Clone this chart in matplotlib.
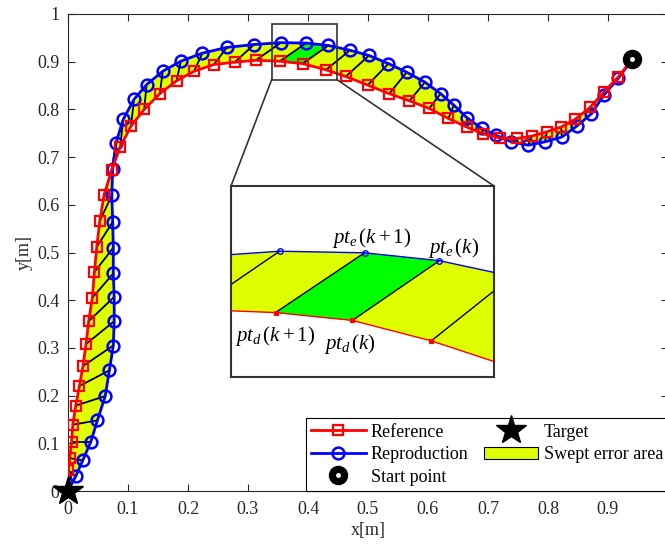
import matplotlib
matplotlib.use('Agg')
import matplotlib.pyplot as plt
from matplotlib.patches import Rectangle, Patch, ConnectionPatch

plt.rcParams['font.family'] = 'Liberation Serif'
plt.rcParams['mathtext.fontset'] = 'custom'
plt.rcParams['mathtext.rm'] = 'Liberation Serif'
plt.rcParams['mathtext.it'] = 'Liberation Serif:italic'

# reference trajectory (red), ordered from target to start point
ref_x = [0.000, 0.0005, 0.003, 0.006, 0.008, 0.013, 0.019, 0.025, 0.030, 0.0345, 0.0405, 0.044,
         0.048, 0.053, 0.060, 0.073, 0.087, 0.105, 0.127, 0.153, 0.181, 0.210, 0.243, 0.278,
         0.313, 0.353, 0.391, 0.430,
         0.463, 0.4995, 0.5355, 0.569, 0.602, 0.634, 0.6645, 0.692, 0.720, 0.748, 0.773, 0.798,
         0.822, 0.845, 0.870, 0.893, 0.917, 0.9405]
ref_y = [0.000, 0.043, 0.069, 0.103, 0.139, 0.179, 0.220, 0.262, 0.308, 0.356, 0.405, 0.459,
         0.512, 0.566, 0.620, 0.674, 0.721, 0.765, 0.800, 0.833, 0.860, 0.880, 0.894, 0.899,
         0.903, 0.901, 0.896, 0.883,
         0.869, 0.851, 0.833, 0.818, 0.802, 0.781, 0.763, 0.749, 0.740, 0.739, 0.744, 0.753,
         0.763, 0.779, 0.804, 0.836, 0.868, 0.905]

# reproduced trajectory (blue)
rep_x = [0.000, 0.013, 0.0245, 0.038, 0.049, 0.062, 0.069, 0.0755, 0.077, 0.077, 0.0755,
         0.0755, 0.0745, 0.073, 0.0745, 0.080, 0.092, 0.110, 0.131, 0.158, 0.188, 0.224, 0.265,
         0.310, 0.355, 0.397, 0.434,
         0.470, 0.5017, 0.534, 0.5645, 0.595, 0.621, 0.643, 0.6645, 0.6895, 0.713, 0.739, 0.767,
         0.795, 0.823, 0.848, 0.8725, 0.893, 0.917, 0.9405]
rep_y = [0.000, 0.031, 0.064, 0.103, 0.148, 0.199, 0.253, 0.305, 0.356, 0.407, 0.456,
         0.510, 0.564, 0.620, 0.676, 0.730, 0.779, 0.821, 0.852, 0.880, 0.901, 0.918, 0.930,
         0.936, 0.940, 0.939, 0.934,
         0.924, 0.913, 0.896, 0.878, 0.857, 0.833, 0.809, 0.783, 0.760, 0.746, 0.732, 0.725,
         0.732, 0.742, 0.765, 0.791, 0.830, 0.865, 0.905]

target = (0.0, 0.0)
start = (0.9405, 0.905)
green_idx = 25  # quad between pt(k+1) and pt(k)

box_x = (0.3395, 0.448)
box_y = (0.8625, 0.978)
inset_xlim = (0.331, 0.461)
inset_ylim = (0.860, 0.9815)

yellow = '#DDFF00'
green = '#00FF00'
dark = '#262626'
n = len(ref_x)


def draw_band(a, pair_lw):
    for i in range(n - 1):
        qx = [ref_x[i], ref_x[i + 1], rep_x[i + 1], rep_x[i]]
        qy = [ref_y[i], ref_y[i + 1], rep_y[i + 1], rep_y[i]]
        c = green if i == green_idx else yellow
        a.fill(qx, qy, facecolor=c, edgecolor=c, lw=0.4, zorder=1)
    for i in range(1, n - 1):
        a.plot([ref_x[i], rep_x[i]], [ref_y[i], rep_y[i]], color='k', lw=pair_lw, zorder=2)


fig = plt.figure(figsize=(6.65, 5.49), dpi=100)
ax = fig.add_axes([68 / 665, 58 / 549, 600 / 665, 477 / 549])

draw_band(ax, 1.3)
mk = slice(1, n - 1)
h_rep, = ax.plot(rep_x, rep_y, '-o', color='b', mfc='none', ms=8.5, mew=1.8, lw=2,
                 markevery=mk, zorder=3)
h_ref, = ax.plot(ref_x, ref_y, '-s', color='r', mfc='none', ms=6.5, mew=1.6, lw=2,
                 markevery=mk, zorder=4)
h_tgt, = ax.plot([target[0]], [target[1]], ls='none', marker='*', color='k', ms=22,
                 zorder=7, clip_on=False)
h_st, = ax.plot([start[0]], [start[1]], ls='none', marker='o', color='k', ms=13, zorder=7)
h_dot, = ax.plot([start[0]], [start[1]], ls='none', marker='o', color='w', ms=2.5, zorder=8)

ax.add_patch(Rectangle((box_x[0], box_y[0]), box_x[1] - box_x[0], box_y[1] - box_y[0],
                       fill=False, ec='#333333', lw=1.2, zorder=6))

ax.set_xlim(0, 1)
ax.set_ylim(0, 1)
xt = [0, 0.1, 0.2, 0.3, 0.4, 0.5, 0.6, 0.7, 0.8, 0.9]
yt = [0, 0.1, 0.2, 0.3, 0.4, 0.5, 0.6, 0.7, 0.8, 0.9, 1]
ax.set_xticks(xt)
ax.set_xticklabels([f'{v:g}' for v in xt])
ax.set_yticks(yt)
ax.set_yticklabels([f'{v:g}' for v in yt])
ax.tick_params(direction='in', top=True, right=True, length=5, width=0.8,
               color=dark, labelcolor=dark, labelsize=13)
ax.tick_params(axis='x', pad=7)
ax.tick_params(axis='y', pad=6)
for s in ax.spines.values():
    s.set_color(dark)
    s.set_linewidth(0.8)
ax.set_xlabel('x[m]', fontsize=13, color=dark, labelpad=3)
ax.set_ylabel('y[m]', fontsize=13, color=dark, labelpad=3)

leg = ax.legend([h_ref, h_rep, (h_st, h_dot), h_tgt,
                 Patch(facecolor=yellow, edgecolor='k', lw=0.8)],
                ['Reference', 'Reproduction', 'Start point', 'Target', 'Swept error area'],
                ncol=2, loc='lower left', bbox_to_anchor=((306 - 68) / 600, 0),
                borderaxespad=0, fontsize=13, handlelength=3.0, handletextpad=0.3,
                columnspacing=0.85, labelspacing=0.3, borderpad=0.3,
                fancybox=False, edgecolor='k', framealpha=1)
leg.get_frame().set_linewidth(0.8)
leg.set_zorder(9)

# zoomed inset
axins = fig.add_axes([231 / 665, (549 - 377) / 549, 263 / 665, 191 / 549])
draw_band(axins, 1.0)
axins.plot(rep_x, rep_y, '-o', color='b', mfc='none', ms=4, mew=1, lw=1, zorder=3)
axins.plot(ref_x, ref_y, '-s', color='r', ms=3, mew=0.8, lw=1, zorder=4)
axins.set_xlim(*inset_xlim)
axins.set_ylim(*inset_ylim)
axins.set_xticks([])
axins.set_yticks([])
for s in axins.spines.values():
    s.set_color('#333333')
    s.set_linewidth(1.5)

lab_kw = dict(transform=axins.transAxes, fontsize=15, ha='center', va='center')
axins.text(0.535, 0.728, r'$pt_e\,(k+1)$', **lab_kw)
axins.text(0.845, 0.675, r'$pt_e\,(k)$', **lab_kw)
axins.text(0.167, 0.215, r'$pt_d\,(k+1)$', **lab_kw)
axins.text(0.452, 0.173, r'$pt_d\,(k)$', **lab_kw)

for bx, fx in [(box_x[0], 0), (box_x[1], 1)]:
    con = ConnectionPatch(xyA=(bx, box_y[0]), coordsA='data', axesA=ax,
                          xyB=(fx, 1), coordsB='axes fraction', axesB=axins,
                          color='#333333', lw=1.2)
    fig.add_artist(con)

fig.savefig('out.png', dpi=100)
